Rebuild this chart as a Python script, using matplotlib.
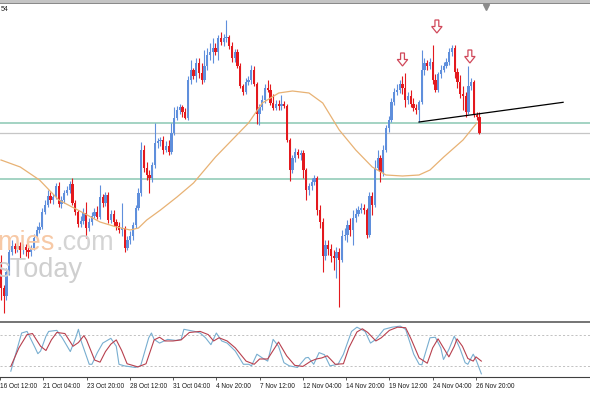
import numpy as np
import matplotlib
matplotlib.use("Agg")
import matplotlib.pyplot as plt
from matplotlib.patches import FancyArrow, Rectangle

# H4 candles, price in chart points (no price scale is visible in the picture)
opens = [138, 112, 104, 128, 148, 154, 151, 154, 150, 153, 150, 148, 152, 162, 170, 173, 188, 195, 204, 200,
         203, 214, 196, 200, 207, 210, 216, 197, 188, 176, 179, 187, 172, 178, 184, 188, 183, 203, 197, 205,
         180, 186, 178, 174, 170, 172, 152, 160, 164, 175, 192, 207, 250, 232, 225, 222, 235, 257, 259, 260,
         250, 254, 248, 267, 282, 290, 293, 288, 282, 320, 330, 324, 337, 327, 320, 334, 345, 348, 352, 348,
         362, 358, 362, 363, 354, 342, 348, 334, 314, 308, 318, 320, 330, 316, 286, 293, 300, 312, 310, 297,
         292, 296, 294, 296, 294, 260, 230, 242, 248, 245, 247, 230, 210, 214, 218, 222, 190, 178, 144, 155,
         151, 144, 142, 148, 140, 164, 165, 175, 170, 182, 186, 190, 192, 190, 165, 204, 195, 232, 242, 228,
         250, 272, 280, 298, 308, 310, 316, 312, 300, 304, 296, 292, 290, 298, 330, 337, 334, 338, 320, 310,
         326, 330, 334, 338, 348, 352, 328, 318, 306, 304, 288, 314, 318, 285, 283]
highs = [145, 115, 132, 155, 160, 157, 160, 158, 156, 156, 153, 155, 166, 174, 178, 192, 200, 210, 208, 206,
         217, 218, 204, 210, 214, 219, 222, 200, 190, 184, 192, 198, 182, 188, 192, 194, 215, 206, 208, 208,
         190, 190, 181, 178, 197, 174, 164, 169, 178, 195, 212, 258, 255, 238, 230, 238, 277, 262, 263, 264,
         259, 260, 277, 293, 294, 296, 295, 292, 324, 340, 332, 342, 342, 337, 350, 352, 357, 362, 357, 365,
         368, 366, 380, 365, 358, 351, 351, 337, 316, 322, 324, 335, 334, 318, 296, 305, 316, 320, 316, 306,
         300, 300, 305, 299, 296, 262, 245, 252, 251, 250, 250, 232, 217, 222, 225, 224, 195, 182, 160, 160,
         156, 150, 153, 152, 170, 172, 180, 182, 190, 192, 194, 197, 196, 192, 208, 208, 240, 250, 245, 255,
         275, 284, 302, 312, 316, 320, 324, 327, 308, 310, 302, 296, 300, 350, 342, 340, 342, 355, 326, 328,
         335, 338, 342, 352, 355, 355, 332, 325, 314, 308, 334, 322, 320, 288, 288]
lows = [100, 87, 100, 125, 145, 147, 148, 142, 146, 144, 142, 144, 150, 160, 167, 171, 186, 193, 197, 196,
        201, 193, 192, 197, 205, 207, 195, 185, 173, 173, 176, 162, 169, 175, 182, 181, 181, 193, 194, 177,
        177, 174, 170, 167, 164, 148, 150, 156, 160, 172, 190, 204, 228, 220, 207, 218, 232, 252, 254, 246,
        248, 245, 246, 265, 280, 286, 283, 281, 280, 316, 321, 318, 322, 316, 318, 330, 340, 337, 345, 340,
        355, 354, 358, 351, 338, 338, 332, 312, 305, 306, 315, 316, 314, 276, 275, 290, 297, 308, 295, 290,
        290, 290, 290, 292, 258, 219, 227, 238, 242, 240, 222, 200, 205, 210, 215, 185, 172, 128, 140, 145,
        138, 130, 122, 93, 138, 160, 158, 164, 155, 178, 184, 187, 186, 162, 163, 185, 193, 230, 218, 224,
        248, 268, 278, 295, 305, 307, 306, 293, 296, 293, 289, 286, 278, 296, 325, 330, 331, 316, 308, 308,
        322, 328, 332, 335, 344, 322, 312, 302, 290, 283, 286, 310, 283, 280, 266]
closes = [112, 104, 128, 148, 154, 151, 154, 150, 153, 150, 148, 152, 162, 170, 173, 188, 195, 204, 200, 203,
          214, 196, 200, 207, 210, 216, 197, 188, 176, 179, 187, 172, 178, 184, 188, 183, 203, 197, 205, 180,
          186, 178, 174, 170, 172, 152, 160, 164, 175, 192, 207, 250, 232, 225, 222, 235, 257, 259, 260, 250,
          254, 248, 267, 282, 290, 293, 288, 282, 320, 330, 324, 337, 327, 320, 334, 345, 348, 352, 348, 362,
          358, 362, 363, 354, 342, 348, 334, 314, 308, 318, 320, 330, 316, 286, 293, 300, 312, 310, 297, 292,
          296, 294, 296, 294, 260, 230, 242, 248, 245, 247, 230, 210, 214, 218, 222, 190, 178, 144, 155, 151,
          144, 142, 148, 140, 164, 165, 175, 170, 182, 186, 190, 192, 190, 165, 204, 195, 232, 242, 228, 250,
          272, 280, 298, 308, 310, 316, 312, 300, 304, 296, 292, 290, 298, 330, 337, 334, 338, 320, 310, 326,
          330, 334, 338, 348, 352, 328, 318, 306, 304, 288, 314, 318, 285, 283, 267]

# moving average, read at sample bars
ma_bars = [0, 7, 14, 21, 30, 36, 42, 47, 50, 53, 58, 64, 70, 78, 84, 90, 95, 101, 106, 112, 117, 123, 129,
           135, 140, 146, 152, 156, 161, 168, 173]
ma_vals = [240, 233, 220, 200, 187, 178, 173, 170, 172, 180, 190, 203, 217, 243, 260, 277, 297, 307, 309,
           307, 297, 270, 250, 233, 225, 224, 225, 230, 243, 260, 277]

# stochastic oscillator
st_bars = [0, 4, 6, 9, 10, 11, 13, 14, 17, 19, 22, 24, 25, 26, 29, 30, 32, 34, 37, 39, 40, 42, 46, 48, 51,
           52, 53, 55, 58, 61, 63, 64, 68, 70, 72, 74, 76, 78, 80, 83, 86, 88, 89, 91, 93, 95, 97, 99, 101,
           103, 106, 109, 110, 112, 114, 116, 118, 121, 123, 126, 128, 131, 133, 135, 138, 141, 144, 146,
           149, 151, 152, 155, 157, 159, 160, 162, 164, 166, 168, 169, 171, 172, 174]
st_main = [11, 83, 86, 55, 44, 49, 77, 86, 88, 74, 48, 74, 90, 68, 24, 24, 46, 64, 73, 58, 24, 21, 18, 21,
           74, 83, 71, 64, 71, 69, 71, 90, 86, 83, 74, 61, 83, 68, 64, 49, 24, 24, 21, 43, 36, 30, 71, 58,
           27, 21, 18, 36, 37, 24, 46, 42, 21, 24, 43, 86, 94, 86, 64, 71, 90, 94, 96, 90, 43, 24, 23, 74,
           75, 55, 33, 52, 77, 55, 27, 24, 43, 33, 6]
sig_bars = [0, 3, 6, 8, 11, 13, 15, 17, 20, 23, 25, 27, 28, 31, 33, 35, 37, 39, 41, 43, 47, 50, 53, 55, 57,
            60, 63, 66, 70, 73, 75, 77, 80, 83, 87, 90, 92, 95, 97, 99, 102, 105, 108, 111, 113, 115, 117,
            120, 123, 125, 128, 130, 132, 135, 137, 140, 143, 146, 148, 151, 154, 156, 158, 160, 162, 164,
            165, 167, 169, 171, 172, 174]
st_signal = [20, 55, 80, 82, 58, 50, 70, 84, 82, 58, 65, 78, 70, 32, 28, 48, 62, 70, 50, 25, 19, 25, 70, 75,
             68, 68, 70, 84, 86, 80, 68, 74, 68, 55, 30, 24, 34, 34, 50, 66, 40, 22, 20, 30, 34, 36, 40, 24,
             25, 55, 85, 91, 84, 68, 74, 88, 94, 93, 72, 36, 26, 55, 72, 55, 38, 58, 72, 58, 35, 30, 38, 30]

# drawn objects
levels_green = [277.3, 220.7]
level_gray = 266.7
trend_bars = [152, 204.4]
trend_vals = [278, 297.7]
arrow_bars = [146, 158.5, 170.5]
arrow_tops = [347, 380, 350]

tick_bars = [-4, 12, 28, 44, 60, 76, 92, 108, 124, 140, 156, 172]
tick_labels = ["16 Oct 12:00", "21 Oct 04:00", "23 Oct 20:00", "28 Oct 12:00", "31 Oct 04:00",
               "4 Nov 20:00", "7 Nov 12:00", "12 Nov 04:00", "14 Nov 20:00", "19 Nov 12:00",
               "24 Nov 04:00", "26 Nov 20:00"]

BULL = "#5f8fdc"
BEAR = "#e3191e"
H = 393.0

def fy(px):
    return 1 - px / H

fig = plt.figure(figsize=(5.9, 3.93), dpi=100)
fig.patch.set_facecolor("white")

ax = fig.add_axes([0, fy(321), 1, fy(4) - fy(321)])
ax2 = fig.add_axes([0, fy(377), 1, fy(324) - fy(377)])

xlim = (-1 / 2.75, 589 / 2.75)
for a in (ax, ax2):
    a.set_xlim(*xlim)
    a.set_facecolor("white")
    for s in a.spines.values():
        s.set_visible(False)
ax.set_ylim(79, 396)
ax2.set_ylim(0, 100)
ax.set_xticks([])
ax.set_yticks([])
ax2.set_yticks([])

# watermark (cut at the left edge as in the screenshot)
wm = dict(fontsize=19.5, family="Liberation Sans", zorder=0)
t1 = fig.text(-0.004, fy(250), "mies", color="#f7c9a6", **wm)
fig.canvas.draw()
bb = t1.get_window_extent(fig.canvas.get_renderer())
fig.text(bb.x1 / fig.bbox.width, fy(250), ".com", color="#d4d4d4", **wm)
fig.text(-0.006, fy(277), "sToday", color="#cfcfcf", **wm)

# levels and trendline
for lv in levels_green:
    ax.axhline(lv, color="#a3d3c3", lw=1.4, zorder=1)
ax.axhline(level_gray, color="#c6c6c6", lw=0.9, zorder=1)

o = np.array(opens, float)
c = np.array(closes, float)
hi = np.array(highs, float)
lo = np.array(lows, float)
xs = np.arange(len(o))
up = c >= o
cols = np.where(up, BULL, BEAR)
ax.vlines(xs, lo, hi, colors=cols, lw=0.8, zorder=3)
body = np.maximum(np.abs(c - o), 1.0)
ax.bar(xs, body, bottom=np.minimum(o, c), width=0.85, color=cols, lw=0, zorder=4)

ax.plot(ma_bars, ma_vals, color="#e8b274", lw=0.9, zorder=5)
ax.plot(trend_bars, trend_vals, color="black", lw=0.9, zorder=6)

for b, t in zip(arrow_bars, arrow_tops):
    ax.add_patch(FancyArrow(b, t, 0, -13, width=1.4, head_width=3.8, head_length=6.5,
                            length_includes_head=True, facecolor="white", edgecolor="#d0485a",
                            lw=0.9, zorder=7))

ax.plot([len(o) + 1.5], [0.992], marker="v", ms=4, color="#8c8c8c",
        transform=ax.get_xaxis_transform(), clip_on=False)
fig.text(0.001, fy(11), "54", fontsize=5, family="Liberation Sans", color="#222222")

# stochastic panel
for lv in (20, 80):
    ax2.axhline(lv, color="#b8b8b8", lw=0.6, ls=(0, (2.5, 2.5)))
ax2.plot(st_bars, st_main, color="#78aed0", lw=0.8)
ax2.plot(sig_bars, st_signal, color="#b8404e", lw=0.8)

ax2.spines["bottom"].set_visible(True)
ax2.spines["bottom"].set_color("#404040")
ax2.spines["bottom"].set_linewidth(0.8)
ax2.set_xticks(tick_bars)
ax2.set_xticklabels(tick_labels)
ax2.tick_params(axis="x", direction="out", length=2.5, width=0.6, color="#404040", pad=2,
                labelsize=4.7, labelcolor="#1a1a1a")
for lab in ax2.get_xticklabels():
    lab.set_ha("left")
    lab.set_family("Liberation Sans")

# window borders
fig.add_artist(Rectangle((0, fy(3)), 1, 3 / H, transform=fig.transFigure, color="#c4c4c4", lw=0))
fig.add_artist(Rectangle((0, fy(4)), 1, 1 / H, transform=fig.transFigure, color="#8a8a8a", lw=0))
fig.add_artist(Rectangle((0, fy(323)), 1, 2 / H, transform=fig.transFigure, color="#777777", lw=0))

fig.savefig("out.png", dpi=100, facecolor="white")
